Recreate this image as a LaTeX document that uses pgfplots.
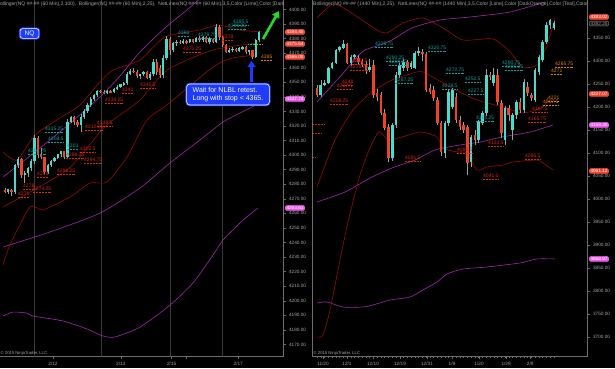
\documentclass[border=0pt]{standalone}
\usepackage{pgfplots}
\pgfplotsset{compat=1.18}
\usepackage{pgfplotstable}
\usepackage{fontspec}
\setmainfont{Liberation Sans}
\usetikzlibrary{arrows.meta}

\definecolor{cup}{RGB}{72,220,205}
\definecolor{cdn}{RGB}{240,66,36}
\definecolor{cwick}{RGB}{160,160,160}
\definecolor{cband}{RGB}{150,12,12}
\definecolor{cpurp}{RGB}{160,40,170}
\definecolor{axgray}{RGB}{110,110,110}
\definecolor{lblgray}{RGB}{165,165,165}
\definecolor{sepgray}{RGB}{58,58,58}
\definecolor{nlteal}{RGB}{20,160,160}
\definecolor{nlred}{RGB}{215,40,20}
\definecolor{nlorange}{RGB}{225,135,0}
\definecolor{tagred}{RGB}{245,70,50}
\definecolor{tagmag}{RGB}{235,90,235}
\definecolor{cblue}{RGB}{30,60,250}
\definecolor{clime}{RGB}{40,215,40}

\newcommand{\tickfont}{\fontsize{4.7}{5.5}\selectfont}
\newcommand{\nlfont}{\fontsize{5}{6}\selectfont}
\newcommand{\tagfont}{\fontsize{4.7}{5.5}\selectfont}
\newcommand{\hdrfont}{\fontsize{5}{6}\selectfont}

\newcommand{\nl}[4]{\node[anchor=base west, inner sep=0pt, text=#1, font=\nlfont] (nlt) at (#2,{366.2-#3}) {#4};\draw[#1, densely dotted, line width=0.45pt] ([yshift=-1.2pt]nlt.base west) -- ([yshift=-1.2pt]nlt.base east);}
\newcommand{\ptag}[6]{\node[anchor=west, fill=#1, text=#2, draw=#3, line width=0.4pt, rounded corners=1.2pt, inner xsep=1.3pt, inner ysep=0.7pt, font=\tagfont] at (#4,{368-#5}) {#6};}

\pgfplotstableread{
x o h l c
1 4276 4277.5 4274 4275
2 4275 4277 4273.5 4276.5
3 4276 4277 4272 4274.5
4 4274.5 4294 4273 4293
5 4293 4298.5 4291 4297.5
6 4297.5 4298 4284 4286
7 4286 4289 4281 4287.5
8 4287.5 4292 4285 4291
9 4291 4297 4289 4296
10 4296 4314 4294 4312
11 4312 4313 4298 4300
12 4301 4305 4297 4298.5
13 4298.5 4299 4287 4288.5
14 4288.5 4294 4287 4293
15 4293 4296.5 4292 4296
16 4296 4299 4295 4298
17 4298 4301 4297 4300.5
18 4300.5 4303 4299 4302.5
19 4302.5 4303 4297 4299
20 4299 4325 4298 4323
21 4323 4327 4322 4326
22 4326 4327 4321 4322.5
23 4322.5 4324 4319 4320.5
24 4320.5 4328 4316 4326.5
25 4326.5 4332 4325 4330.5
26 4330.5 4336 4329 4334.5
27 4334.5 4340 4333 4338.5
28 4338.5 4342 4337 4341
29 4341 4345 4340 4344
30 4344 4345 4342.5 4343.5
31 4343.5 4344.5 4342 4343
32 4343 4344.5 4342 4344
33 4344 4345 4342.5 4343
34 4343 4346 4342.5 4345.5
35 4345.5 4348 4344.5 4347
36 4347 4349 4346 4348.5
37 4348.5 4350 4347.5 4349.5
38 4349.5 4357 4348 4356
39 4356 4359 4355 4358
40 4358 4359.5 4356.5 4357
41 4357 4358.5 4353 4354
42 4354 4356 4352 4355.5
43 4355.5 4358 4354 4357
44 4357 4358 4352 4353
45 4353 4357 4351.5 4356
46 4356 4366 4354 4364
47 4364 4366 4355 4357
48 4360 4362 4353 4355
49 4355 4369 4353 4367
50 4367 4382 4365 4380
51 4380 4381 4369 4372
52 4372 4378 4371 4377
53 4377 4379 4375 4378
54 4378 4379 4376 4377
55 4377 4379.5 4376 4378.5
56 4378.5 4379 4376.5 4377.5
57 4377.5 4380 4377 4379.5
58 4379.5 4380 4377 4378
59 4378 4381 4377.5 4380.5
60 4380.5 4381.5 4378 4379
61 4379 4382 4378 4381
62 4381 4382 4377 4378
63 4378 4381 4376.5 4380
64 4380 4380.5 4377 4378
65 4378 4390 4377 4388
66 4388 4389 4379 4381
67 4381 4382 4374 4375.5
68 4375.5 4376 4370 4371
69 4371 4373.5 4370 4372.5
70 4372.5 4374 4371 4373
71 4373 4373.5 4370.5 4371.5
72 4371.5 4374 4371 4373.5
73 4373.5 4375 4372 4374
74 4374 4375 4369.5 4370.5
75 4370.5 4372.5 4369 4372
76 4372 4372.5 4366 4367.5
77 4367.5 4380 4366.5 4379
78 4379 4385.5 4378 4384.4
}\Ldata

\pgfplotstableread{
x o h l c
1 4241 4248 4222 4226
2 4226 4259 4222 4248
3 4248 4258 4245 4252
4 4252 4288 4249 4285
5 4285 4298 4282 4296
6 4296 4327 4293 4324
7 4324 4333 4320 4330
8 4328 4346 4325 4337
9 4337 4340 4293 4296
10 4296 4312 4290 4308
11 4308 4316 4304 4313
12 4307 4312 4292 4298
13 4300 4305 4286 4291
14 4291 4301 4272 4280
15 4280 4305 4276 4287
16 4291 4302 4220 4226
17 4230 4240 4214 4221
18 4226 4232 4182 4187
19 4187 4195 4150 4154
20 4156 4162 4080 4089
21 4089 4165 4083 4161
22 4161 4275 4155 4270
23 4269 4296 4262 4291
24 4285 4304 4278 4298
25 4297 4302 4278 4285
26 4286 4300 4283 4296
27 4285 4321 4283 4317
28 4317 4330 4310 4322
29 4320 4326 4300 4316
30 4316 4320 4232 4238
31 4241 4250 4228 4233
32 4237 4246 4213 4220
33 4215 4222 4160 4165
34 4165 4170 4093 4102
35 4100 4170 4090 4165
36 4165 4240 4158 4233
37 4200 4241 4196 4237
38 4222 4230 4165 4172
39 4172 4180 4150 4157
40 4161 4168 4143 4150
41 4156 4160 4052 4078
42 4080 4140 4070 4135
43 4139 4150 4118 4128
44 4128 4172 4122 4167
45 4165 4192 4160 4187
46 4187 4282 4180 4270
47 4270 4275 4258 4265
48 4252 4285 4245 4270
49 4270 4283 4205 4211
50 4209 4215 4133 4143
51 4128 4203 4118 4198
52 4198 4205 4170 4183
53 4150 4188 4128 4183
54 4183 4215 4175 4211
55 4211 4220 4188 4193
56 4193 4260 4188 4254
57 4243 4255 4224 4230
58 4226 4230 4212 4220
59 4215 4285 4210 4280
60 4276 4312 4270 4309
61 4302 4345 4298 4341
62 4341 4385 4337 4378
63 4378 4392 4370 4389
64 4371 4386 4368 4382.25
}\Rdata

\pgfplotsset{
  ninja/.style={
    scale only axis, clip=true,
    axis x line*=bottom, axis y line*=right,
    axis line style={draw=axgray, line width=0.5pt},
    tick align=outside,
    tick style={draw=axgray, line width=0.4pt},
    major tick length=2.5pt, minor tick length=1.6pt,
    ticklabel style={font=\tickfont, text=lblgray},
    yticklabel={\pgfmathprintnumber[fixed,fixed zerofill,precision=2,1000 sep={},assume math mode=true]{\tick}},
  }
}

\begin{document}
\begin{tikzpicture}[x=1pt,y=1pt]
\useasboundingbox (0,0) rectangle (615,368);
\fill[black] (0,0) rectangle (615,368);

% ---------------- LEFT PANEL (60 min) ----------------
\begin{axis}[ninja, at={(0pt,11.5pt)}, anchor=south west, width=283pt, height=356.5pt,
  xmin=-0.5, xmax=85.26, ymin=4161.7, ymax=4406.5,
  ytick={4170,4180,...,4400},
  xtick={15.56,36.08,51.53,55.86,71.7}, xticklabels={2/12,2/13,2/15,,2/17},
  extra x ticks={9.8,30.1,51.0,66.8}, extra x tick labels={},
  extra x tick style={grid=major, major grid style={draw=sepgray, line width=0.6pt}, major tick length=0pt},
]
\addplot[cpurp, line width=0.6pt, smooth, tension=0.4] coordinates {(0.41,4285) (10.11,4302.1) (19.8,4320) (29.8,4339.9) (35.86,4354.3) (41.92,4370.8) (49.5,4387.3) (56.17,4399.7) (63.14,4413.4)};
\addplot[cpurp, line width=0.6pt, smooth, tension=0.4] coordinates {(0.41,4236.9) (14.65,4247.2) (29.8,4260.2) (41.92,4277.4) (51.02,4294.6) (60.11,4310.4) (67.08,4322.7) (72.23,4328.9) (77.68,4335.1)};
\addplot[cpurp, line width=0.6pt, smooth, tension=0.4] coordinates {(0.41,4189.5) (3.44,4192.2) (7.68,4191.5) (9.5,4189.5) (18.59,4186.1) (25.86,4180.6) (30.71,4175.8) (34.35,4175.1) (41.92,4181.9) (51.02,4197.0) (57.98,4212.2) (64.05,4231.4) (67.08,4241.7) (70.11,4248.6) (73.14,4255.4) (77.68,4263.7)};
\addplot[cband, line width=0.6pt, smooth, tension=0.4] coordinates {(0.41,4302.1) (4.65,4296.6) (10.11,4313.8) (17.68,4325.5) (23.74,4334.4) (29.8,4350.2) (33.74,4358.4) (41.92,4365.3) (49.5,4381.1) (60.11,4385.9) (65.56,4389.4) (72.23,4385.9) (78.89,4384.5)};
\addplot[cband, line width=0.6pt, smooth, tension=0.4] coordinates {(0.41,4264.4) (19.8,4289.8) (29.8,4315.9) (33.74,4324.1) (41.92,4337.8) (50.1,4358.4) (64.05,4372.2) (77.38,4377)};
\addplot[cband, line width=0.6pt, smooth, tension=0.4] coordinates {(0.41,4224.5) (2.53,4238.3) (8.59,4264.4) (12.53,4262.3) (20.71,4271.2) (26.77,4280.8) (31.92,4281.5) (37.98,4298.7) (44.05,4324.1) (50.1,4334.4) (64.05,4360.5) (70.11,4366.7) (77.38,4368.7)};
\addplot[draw=none, forget plot, error bars/.cd, y dir=both, y explicit, error mark=none, error bar style={draw=cwick, line width=0.5pt}]
  table[x=x, y expr={(\thisrow{h}+\thisrow{l})/2}, y error expr={(\thisrow{h}-\thisrow{l})/2}] {\Ldata};
\addplot[draw=none, forget plot, restrict expr to domain={\thisrow{c}-\thisrow{o}}{0:100000}, error bars/.cd, y dir=both, y explicit, error mark=none, error bar style={draw=cup, line width=2.3pt}]
  table[x=x, y expr={(\thisrow{o}+\thisrow{c})/2}, y error expr={max(abs(\thisrow{c}-\thisrow{o})/2,0.4)}] {\Ldata};
\addplot[draw=none, forget plot, restrict expr to domain={\thisrow{c}-\thisrow{o}}{-100000:-0.001}, error bars/.cd, y dir=both, y explicit, error mark=none, error bar style={draw=cdn, line width=2.3pt}]
  table[x=x, y expr={(\thisrow{o}+\thisrow{c})/2}, y error expr={max(abs(\thisrow{c}-\thisrow{o})/2,0.4)}] {\Ldata};
\end{axis}

% ---------------- RIGHT PANEL (daily) ----------------
\begin{axis}[ninja, at={(312pt,11.5pt)}, anchor=south west, width=275pt, height=356.5pt,
  xmin=-0.33, xmax=72.81, ymin=3657.6, ymax=4432.6,
  ytick={3700,3750,...,4350},
  xtick={2.59,8.98,15.89,23.07,30.25,36.9,44.1,51.3,57.7},
  xticklabels={11/20,12/1,12/10,12/19,12/31,1/9,1/20,1/29,2/9},
  minor xtick={1,2,...,64},
]
\addplot[cpurp, line width=0.6pt, smooth, tension=0.4] coordinates {(1.0,4210.9) (6.84,4263.0) (12.97,4319.6) (17.75,4334.8) (20.94,4345.6) (26.26,4371.7) (33.71,4389.1) (41.68,4395.6) (52.32,4406.5) (61.63,4428.3)};
\addplot[cpurp, line width=0.6pt, smooth, tension=0.4] coordinates {(1.0,3993.5) (8.45,4015.2) (15.1,4045.6) (20.94,4067.4) (27.06,4084.8) (32.38,4106.5) (39.03,4117.4) (44.35,4123.9) (50.2,4134.8) (57.65,4145.6) (63.77,4160.9)};
\addplot[cpurp, line width=0.6pt, smooth, tension=0.4] coordinates {(1.0,3773.9) (3.66,3776.1) (7.91,3765.2) (13.23,3765.2) (15.89,3769.6) (20.41,3780.4) (25.73,3786.9) (29.19,3802.2) (32.91,3819.6) (35.57,3837.0) (39.83,3847.8) (46.2,3852.2) (54.99,3860.9) (59.5,3869.6) (64.3,3869.6)};
\addplot[cband, line width=0.6pt, smooth, tension=0.4] coordinates {(1.0,4393.5) (5.25,4423.9) (9.78,4406.5) (16.96,4367.4) (19.6,4360.9) (23.87,4382.6) (29.19,4393.5) (34.5,4371.7) (39.86,4345.6) (47.8,4347.8) (52.32,4319.6) (55.78,4286.9) (59.5,4291.3) (62.17,4334.8) (64.3,4393.5)};
\addplot[cband, line width=0.6pt, smooth, tension=0.4] coordinates {(1.0,4026.1) (5.79,4128.3) (10.57,4193.5) (15.63,4232.6) (20.94,4258.7) (25.73,4271.7) (29.19,4276.1) (36.37,4243.5) (43.55,4215.2) (50.46,4200.0) (55.78,4186.9) (61.1,4200.0) (62.43,4221.7)};
\addplot[cband, line width=0.6pt, smooth, tension=0.4] coordinates {(1.0,3700.0) (2.59,3704.3) (4.46,3758.7) (7.12,3867.4) (9.24,3950.0) (12.44,4052.2) (15.1,4110.9) (17.49,4145.6) (20.41,4128.3) (28.39,4145.6) (32.91,4134.8) (34.5,4110.9) (38.22,4102.2) (40.88,4100.0) (43.55,4063.0) (46.2,4069.6) (50.46,4073.9) (53.12,4080.4) (59.5,4084.8) (61.1,4078.3) (63.77,4063.0)};
\addplot[draw=none, forget plot, error bars/.cd, y dir=both, y explicit, error mark=none, error bar style={draw=cwick, line width=0.5pt}]
  table[x=x, y expr={(\thisrow{h}+\thisrow{l})/2}, y error expr={(\thisrow{h}-\thisrow{l})/2}] {\Rdata};
\addplot[draw=none, forget plot, restrict expr to domain={\thisrow{c}-\thisrow{o}}{0:100000}, error bars/.cd, y dir=both, y explicit, error mark=none, error bar style={draw=cup, line width=2.6pt}]
  table[x=x, y expr={(\thisrow{o}+\thisrow{c})/2}, y error expr={max(abs(\thisrow{c}-\thisrow{o})/2,1.5)}] {\Rdata};
\addplot[draw=none, forget plot, restrict expr to domain={\thisrow{c}-\thisrow{o}}{-100000:-0.001}, error bars/.cd, y dir=both, y explicit, error mark=none, error bar style={draw=cdn, line width=2.6pt}]
  table[x=x, y expr={(\thisrow{o}+\thisrow{c})/2}, y error expr={max(abs(\thisrow{c}-\thisrow{o})/2,1.5)}] {\Rdata};
\end{axis}
\draw[axgray, line width=0.5pt] (312,11.5) -- (312,368);

% headers
\begin{scope}
\clip (0,355) rectangle (283,368);
\node[anchor=west, inner sep=0pt, text=lblgray, font=\hdrfont] at (-3.5,363.5) {Bollinger(NQ \#\#-\#\# (60 Min),2,100),\ \ Bollinger(NQ \#\#-\#\# (60 Min),2,25),\ \ NetLines(NQ \#\#-\#\# (60 Min),3,5,Color [Lime],Color [DarkOrange]};
\end{scope}
\begin{scope}
\clip (312,355) rectangle (587,368);
\node[anchor=west, inner sep=0pt, text=lblgray, font=\hdrfont] at (313,363.5) {Bollinger(NQ \#\#-\#\# (1440 Min),2,25),\ \ NetLines(NQ \#\#-\#\# (1440 Min),3,5,Color [Lime],Color [DarkOrange],Color [Teal],Color [Red]};
\end{scope}

% copyright
\node[anchor=base west, inner sep=0pt, text=lblgray, font=\fontsize{4.2}{5}\selectfont] at (0.5,13.5) {\textcopyright{} 2015 NinjaTrader, LLC};
\node[anchor=base west, inner sep=0pt, text=lblgray, font=\fontsize{4.2}{5}\selectfont] at (313.5,13.5) {\textcopyright{} 2015 NinjaTrader, LLC};

% net line labels, left
\nl{nlteal}{233}{22}{4385.5}
\nl{nlteal}{228}{26}{4386.25}
\nl{nlteal}{178}{33}{4366}
\nl{nlteal}{198}{35}{4379.75}
\nl{nlteal}{45}{129}{4315.25}
\nl{nlteal}{48}{139}{4308.5}
\nl{nlteal}{28}{151}{4301.75}
\nl{nlteal}{67}{146}{4303}
\nl{nlred}{222}{37}{4378}
\nl{nlred}{183}{49}{4370.25}
\nl{nlred}{140}{85}{4345.5}
\nl{nlred}{122}{90}{4342}
\nl{nlred}{105}{100}{4334.25}
\nl{nlred}{97}{123}{4319.5}
\nl{nlred}{85}{127}{4312.25}
\nl{nlred}{80}{149}{4302.5}
\nl{nlred}{66}{155}{4296.25}
\nl{nlred}{84}{160}{4294.75}
\nl{nlred}{57}{171}{4286.25}
\nl{nlred}{37}{174}{4284}
\nl{nlred}{23}{186}{4278}
\nl{nlred}{33}{189}{4274.25}
\nl{nlred}{18}{194}{4271}
\nl{nlorange}{261}{57}{4385}
\draw[clime, densely dotted, line width=0.5pt] (248,324) -- (263,324);

% net line labels, right
\nl{nlteal}{375}{44}{4326.75}
\nl{nlteal}{386}{58}{4290.25}
\nl{nlteal}{389}{62}{4288.25}
\nl{nlteal}{395}{80}{4287.25}
\nl{nlteal}{428}{48}{4320.75}
\nl{nlteal}{446}{70}{4272.75}
\nl{nlteal}{442}{86}{4228.5}
\nl{nlteal}{465}{79}{4252.5}
\nl{nlteal}{468}{91}{4227.5}
\nl{nlteal}{476}{118}{4181.25}
\nl{nlteal}{502}{63}{4290.75}
\nl{nlteal}{505}{67}{4285.25}
\nl{nlred}{352}{61}{4280.5}
\nl{nlred}{350}{67}{4276.75}
\nl{nlred}{342}{82}{4248}
\nl{nlred}{337}{86}{4237.5}
\nl{nlred}{330}{101}{4206.25}
\nl{nlred}{405}{158}{4091.5}
\nl{nlred}{457}{150}{4096.5}
\nl{nlred}{483}{176}{4041.5}
\nl{nlred}{525}{156}{4095.5}
\nl{nlred}{488}{143}{4133.5}
\nl{nlred}{532}{109}{4167.5}
\nl{nlred}{528}{119}{4165.75}
\nl{nlorange}{555}{64}{4265.75}
\nl{nlorange}{551}{71}{4271}
\nl{nlorange}{548}{98}{4221}
\nl{nlorange}{543}{102}{4207.5}
\draw[nlred, densely dotted, line width=0.5pt] (313,{368-124}) -- (324,{368-124});
\draw[nlred, densely dotted, line width=0.5pt] (313,{368-133}) -- (322,{368-133});
\draw[nlred, densely dotted, line width=0.5pt] (313,{368-157}) -- (316,{368-157});

% price tags
\ptag{tagred}{white}{tagred}{285}{32}{4384.40}
\ptag{tagred}{white}{tagred}{285}{44}{4375.64}
\ptag{tagred}{white}{tagred}{285}{57}{4366.00}
\ptag{tagmag}{white}{tagmag}{285}{99}{4337.74}
\ptag{tagmag}{white}{tagmag}{285}{208}{4263.61}
\ptag{tagred}{white}{tagred}{589}{17}{4383.02}
\ptag{black}{lblgray}{lblgray}{589}{23.5}{4382.25}
\ptag{tagred}{white}{tagred}{589}{94}{4227.07}
\ptag{tagmag}{white}{tagmag}{589}{125}{4159.30}
\ptag{tagred}{white}{tagred}{589}{171}{4061.12}
\ptag{tagmag}{white}{tagmag}{589}{259}{3868.87}

% annotations
\node[fill=cblue, draw=white, line width=0.6pt, rounded corners=2.5pt, text=white, font=\fontsize{6.5}{7}\selectfont, inner xsep=4.5pt, inner ysep=2pt, preaction={draw=cblue, line width=2.4pt}] at (29.5,{368-33.5}) {NQ};
\node[fill=cblue, draw=white, line width=0.6pt, rounded corners=3pt, text=white, align=left, font=\fontsize{7}{8.4}\selectfont, inner xsep=6pt, inner ysep=3pt, preaction={draw=cblue, line width=2.4pt}] at (228,{368-94.5}) {Wait for NLBL retest.\\Long with stop < 4365.};
\draw[cblue, line width=2.6pt, -{Triangle[length=6pt,width=8pt]}] (251.5,{368-82}) -- (251.5,{368-61});
\draw[clime, line width=2.6pt, -{Triangle[length=6.5pt,width=8pt]}] (263,{368-39}) -- (279,{368-11});
\end{tikzpicture}
\end{document}
